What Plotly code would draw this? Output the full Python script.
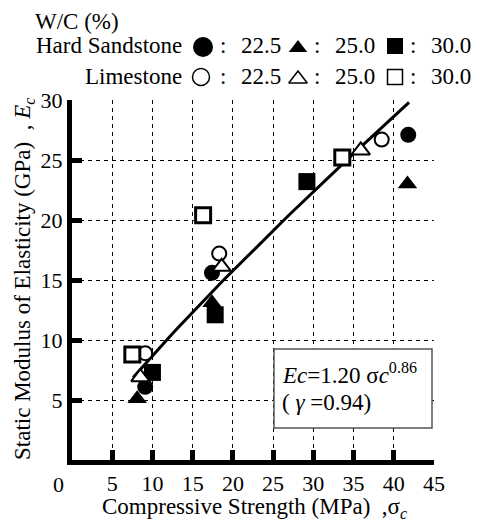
import numpy as np
import plotly.graph_objects as go

# ---------------- data ----------------
hs_225_x = [9.1, 17.4, 41.8]
hs_225_y = [6.1, 15.6, 27.1]
hs_250_x = [8.1, 17.4, 41.7]
hs_250_y = [5.1, 13.1, 23.0]
hs_300_x = [10.0, 17.8, 29.2]
hs_300_y = [7.3, 12.1, 23.2]

ls_225_x = [9.1, 18.3, 38.5]
ls_225_y = [8.9, 17.2, 26.7]
ls_250_x = [8.5, 18.6, 35.9]
ls_250_y = [6.9, 16.1, 25.8]
ls_300_x = [7.5, 16.3, 33.6]
ls_300_y = [8.8, 20.4, 25.2]

fit_coef = 1.20
fit_exp = 0.86
fit_r = 0.94
fit_xmin, fit_xmax = 7.6, 41.9

x_ticks = [5, 10, 15, 20, 25, 30, 35, 40, 45]
y_ticks = [5, 10, 15, 20, 25, 30]
wc_labels = ["22.5", "25.0", "30.0"]

# ---------------- geometry ----------------
W, H = 486, 524
OFF = 8                      # page body margin
FONT = "Liberation Serif"
PX_X0, PX_X1 = 72, 434       # page pixel x of data 0 and 45
PX_Y0, PX_Y1 = 460, 100      # page pixel y of data 0 and 30
XMAX, YMAX = 45, 30

def dx(px):   # page pixel -> data x
    return (px - PX_X0) / (PX_X1 - PX_X0) * XMAX

def dy(py):   # page pixel -> data y
    return (PX_Y0 - py) / (PX_Y0 - PX_Y1) * YMAX

def pxp(px):  # page pixel -> paper x
    return (px - OFF) / W

def pyp(py):  # page pixel -> paper y
    return (H - (py - OFF)) / H

fig = go.Figure()

fx = np.linspace(fit_xmin, fit_xmax, 40)
fy = fit_coef * fx ** fit_exp
fig.add_trace(go.Scatter(x=fx, y=fy, mode="lines",
                         line=dict(color="black", width=3), showlegend=False))

def add_pts(x, y, symbol, size, fill, lw):
    fig.add_trace(go.Scatter(
        x=x, y=y, mode="markers", showlegend=False, cliponaxis=False,
        marker=dict(symbol=symbol, size=size, color=fill,
                    line=dict(color="black", width=lw))))

add_pts(hs_225_x, hs_225_y, "circle", 16, "black", 0)
add_pts(hs_250_x, hs_250_y, "triangle-up", 17, "black", 0)
add_pts(hs_300_x, hs_300_y, "square", 17, "black", 0)
add_pts(ls_225_x, ls_225_y, "circle", 14, "white", 2)
add_pts(ls_250_x, ls_250_y, "triangle-up", 16, "white", 2)
add_pts(ls_300_x, ls_300_y, "square", 15, "white", 3)

# legend keys on a pixel-space overlay axis (x2/y2 span the whole figure)
leg_sym = [
    (203, 47, "circle", 20, "black", 0),
    (298, 48, "triangle-up", 16, "black", 0),
    (395, 46, "square", 16, "black", 0),
    (201, 77, "circle", 17, "white", 1.5),
    (298, 79, "triangle-up", 16, "white", 1.5),
    (395, 77, "square", 15, "white", 1.5),
]
for (sx, sy, sym, sz, fc, lw) in leg_sym:
    fig.add_trace(go.Scatter(
        x=[sx - OFF], y=[sy - OFF], xaxis="x2", yaxis="y2", mode="markers",
        showlegend=False, cliponaxis=False,
        marker=dict(symbol=sym, size=sz, color=fc,
                    line=dict(color="black", width=lw))))

ann = []
def txt(x, y, s, xanchor="left", size=23, **kw):
    ann.append(dict(x=pxp(x), y=pyp(y), xref="paper", yref="paper", text=s,
                    showarrow=False, xanchor=xanchor, yanchor="middle",
                    font=dict(family=FONT, size=size, color="black"), **kw))

txt(33, 22, "W/C (%)")
txt(184, 46, "Hard Sandstone", xanchor="right")
txt(184, 76, "Limestone", xanchor="right")
for row_y in (46, 76):
    for cx, lab in zip([223, 317, 413], wc_labels):
        txt(cx, row_y, ":", xanchor="center")
        txt(cx + 16, row_y, lab)

txt(58, 484, "0", xanchor="center", size=22)
txt(254, 508, "Compressive Strength (MPa)\u00a0\u00a0,σ<sub><i>c</i></sub>", xanchor="center")
txt(24, 279, "Static Modulus of Elasticity (GPa)\u00a0\u00a0, <i>E</i><sub><i>c</i></sub>",
    xanchor="center", textangle=-90)

txt(280, 373, f"<i>Ec</i>={fit_coef:.2f} σ<i>c</i><sup>{fit_exp:.2f}</sup>")
txt(280, 402, f"(\u00a0<i>γ</i>\u00a0={fit_r:.2f})")

shapes = [dict(type="rect", xref="x", yref="y", x0=dx(274), x1=dx(432), y0=dy(428), y1=dy(349),
               line=dict(color="#555555", width=1.5), fillcolor="white", layer="above")]

axis_common = dict(
    showline=True, linewidth=5, linecolor="black", automargin=False,
    ticks="inside", ticklen=10, tickwidth=5, tickcolor="black",
    showgrid=True, gridcolor="black", gridwidth=1, griddash="4px,4px",
    zeroline=False, tickfont=dict(family=FONT, size=22, color="black"),
)

fig.update_layout(
    template="none",
    font=dict(family=FONT, size=22, color="black"),
    width=W, height=H, margin=dict(l=0, r=0, t=0, b=0, pad=0),
    paper_bgcolor="white", plot_bgcolor="rgba(0,0,0,0)",
    xaxis=dict(range=[0, XMAX], domain=[pxp(PX_X0), pxp(PX_X1)], tickvals=x_ticks,
               anchor="y", **axis_common),
    yaxis=dict(range=[0, YMAX], domain=[pyp(PX_Y0), pyp(PX_Y1)], tickvals=y_ticks,
               anchor="x", **axis_common),
    xaxis2=dict(range=[0, W], domain=[0, 1], visible=False, anchor="y2",
                fixedrange=True, automargin=False),
    yaxis2=dict(range=[H, 0], domain=[0, 1], visible=False, anchor="x2",
                fixedrange=True, automargin=False),
    annotations=ann, shapes=shapes, showlegend=False,
)

fig.write_html("out.html")
